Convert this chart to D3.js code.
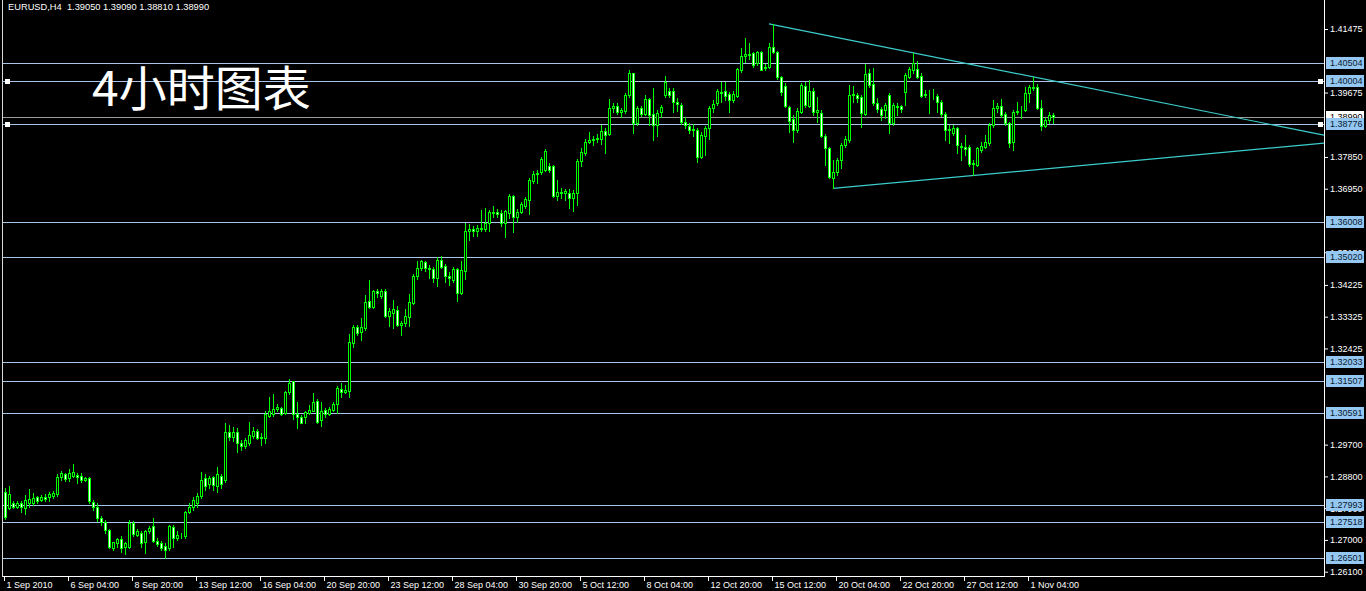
<!DOCTYPE html>
<html><head><meta charset="utf-8">
<script src="https://cdn.jsdelivr.net/npm/d3@7"></script>
<style>html,body{margin:0;padding:0;background:#000;overflow:hidden}</style>
</head><body>
<script>
const openP = [
1.2837,1.2790,1.2806,1.2794,1.2804,1.2790,1.2804,1.2806,1.2821,1.2813,
1.2823,1.2821,1.2825,1.2830,1.2878,1.2887,1.2875,1.2881,1.2883,1.2881,
1.2870,1.2875,1.2808,1.2794,1.2761,1.2752,1.2727,1.2677,1.2691,1.2702,
1.2681,1.2681,1.2747,1.2714,1.2721,1.2693,1.2724,1.2740,1.2698,1.2691,
1.2683,1.2677,1.2738,1.2705,1.2712,1.2710,1.2778,1.2793,1.2806,1.2825,
1.2875,1.2858,1.2878,1.2853,1.2881,1.2870,1.3007,1.2993,1.3007,1.2974,
1.2966,1.2976,1.2995,1.3010,1.2988,1.2988,1.3051,1.3057,1.3070,1.3073,
1.3059,1.3120,1.3149,1.3056,1.3048,1.3049,1.3059,1.3066,1.3094,1.3040,
1.3068,1.3057,1.3068,1.3085,1.3129,1.3120,1.3123,1.3259,1.3302,1.3290,
1.3300,1.3377,1.3361,1.3404,1.3391,1.3404,1.3333,1.3344,1.3352,1.3309,
1.3314,1.3331,1.3371,1.3448,1.3470,1.3486,1.3470,1.3467,1.3441,1.3493,
1.3476,1.3448,1.3437,1.3467,1.3399,1.3463,1.3575,1.3580,1.3574,1.3583,
1.3580,1.3597,1.3625,1.3630,1.3627,1.3597,1.3627,1.3673,1.3616,1.3630,
1.3646,1.3663,1.3718,1.3736,1.3742,1.3748,1.3760,1.3760,1.3675,1.3687,
1.3684,1.3684,1.3670,1.3684,1.3774,1.3797,1.3828,1.3833,1.3836,1.3835,
1.3859,1.3850,1.3923,1.3928,1.3913,1.3916,1.3961,1.4022,1.3882,1.3923,
1.3907,1.3948,1.3907,1.3876,1.3911,1.3961,1.3973,1.3973,1.3942,1.3932,
1.3885,1.3873,1.3860,1.3862,1.3786,1.3845,1.3866,1.3923,1.3937,1.3970,
1.3973,1.3962,1.3946,1.3958,1.4031,1.4071,1.4076,1.4079,1.4050,1.4081,
1.4036,1.4041,1.4096,1.4081,1.4011,1.3986,1.3926,1.3892,1.3862,1.3913,
1.3987,1.3929,1.3973,1.3913,1.3909,1.3843,1.3810,1.3725,1.3741,1.3777,
1.3819,1.3833,1.3961,1.3961,1.3954,1.3907,1.4022,1.3992,1.3937,1.3920,
1.3918,1.3961,1.3880,1.3926,1.3928,1.3970,1.4012,1.4031,1.4033,1.4014,
1.3961,1.3963,1.3962,1.3958,1.3942,1.3907,1.3861,1.3852,1.3866,1.3816,
1.3812,1.3812,1.3765,1.3762,1.3805,1.3814,1.3824,1.3876,1.3923,1.3928,
1.3907,1.3880,1.3828,1.3913,1.3915,1.3918,1.3965,1.3984,1.3984,1.3923,
1.3873,1.3890,1.3905];
const highP = [
1.2846,1.2853,1.2811,1.2809,1.2809,1.2828,1.2844,1.2832,1.2825,1.2828,
1.2830,1.2837,1.2840,1.2887,1.2894,1.2891,1.2900,1.2914,1.2891,1.2889,
1.2879,1.2878,1.2813,1.2804,1.2768,1.2757,1.2730,1.2695,1.2705,1.2710,
1.2695,1.2757,1.2755,1.2730,1.2724,1.2727,1.2740,1.2761,1.2705,1.2696,
1.2691,1.2743,1.2743,1.2724,1.2719,1.2783,1.2804,1.2821,1.2832,1.2892,
1.2887,1.2881,1.2881,1.2907,1.2887,1.3031,1.3026,1.3021,1.3016,1.2983,
1.2988,1.3033,1.3019,1.3014,1.3002,1.3064,1.3106,1.3114,1.3085,1.3078,
1.3123,1.3156,1.3151,1.3092,1.3054,1.3066,1.3083,1.3117,1.3099,1.3092,
1.3073,1.3078,1.3092,1.3137,1.3144,1.3139,1.3284,1.3309,1.3309,1.3328,
1.3394,1.3437,1.3408,1.3410,1.3410,1.3410,1.3356,1.3380,1.3363,1.3319,
1.3354,1.3397,1.3454,1.3489,1.3493,1.3491,1.3479,1.3473,1.3501,1.3505,
1.3482,1.3460,1.3473,1.3470,1.3491,1.3597,1.3594,1.3590,1.3592,1.3635,
1.3640,1.3635,1.3646,1.3637,1.3635,1.3635,1.3680,1.3677,1.3637,1.3656,
1.3671,1.3725,1.3744,1.3748,1.3784,1.3807,1.3767,1.3762,1.3720,1.3696,
1.3693,1.3693,1.3690,1.3778,1.3810,1.3835,1.3857,1.3845,1.3850,1.3876,
1.3866,1.3948,1.3937,1.3939,1.3923,1.3967,1.4030,1.4024,1.3928,1.3928,
1.3961,1.3951,1.3979,1.3918,1.3932,1.4013,1.3980,1.3980,1.3951,1.3937,
1.3899,1.3880,1.3879,1.3866,1.3857,1.3873,1.3928,1.3946,1.3977,1.3998,
1.3998,1.3970,1.3973,1.4036,1.4093,1.4121,1.4109,1.4083,1.4086,1.4086,
1.4048,1.4109,1.4161,1.4086,1.4014,1.3994,1.3929,1.3904,1.3923,1.3994,
1.3998,1.4003,1.3980,1.3954,1.3918,1.3850,1.3814,1.3777,1.3781,1.3824,
1.3843,1.3989,1.3986,1.3965,1.3961,1.4048,1.4033,1.4036,1.3951,1.3926,
1.3937,1.3965,1.3937,1.3937,1.3932,1.4024,1.4039,1.4079,1.4058,1.4022,
1.3975,1.3975,1.3977,1.3963,1.3946,1.3911,1.3876,1.3876,1.3871,1.3824,
1.3847,1.3819,1.3777,1.3814,1.3828,1.3847,1.3880,1.3945,1.3937,1.3948,
1.3911,1.3885,1.3918,1.3942,1.3928,1.3984,1.3989,1.4011,1.3992,1.3945,
1.3895,1.3913,1.3909];
const lowP = [
1.2759,1.2787,1.2790,1.2790,1.2780,1.2774,1.2794,1.2799,1.2804,1.2811,
1.2809,1.2811,1.2818,1.2825,1.2870,1.2868,1.2867,1.2878,1.2862,1.2865,
1.2867,1.2806,1.2785,1.2755,1.2743,1.2721,1.2676,1.2672,1.2681,1.2667,
1.2660,1.2677,1.2710,1.2710,1.2681,1.2662,1.2719,1.2693,1.2683,1.2672,
1.2648,1.2672,1.2681,1.2700,1.2705,1.2705,1.2776,1.2785,1.2794,1.2819,
1.2842,1.2847,1.2842,1.2836,1.2847,1.2865,1.2983,1.2979,1.2950,1.2955,
1.2960,1.2969,1.2988,1.2985,1.2969,1.2974,1.3049,1.3051,1.3066,1.3054,
1.3057,1.3114,1.3042,1.3016,1.3031,1.3031,1.3057,1.3064,1.3031,1.3024,
1.3049,1.3054,1.3064,1.3059,1.3104,1.3116,1.3104,1.3248,1.3281,1.3267,
1.3295,1.3358,1.3356,1.3389,1.3385,1.3331,1.3305,1.3300,1.3305,1.3281,
1.3306,1.3305,1.3369,1.3439,1.3465,1.3463,1.3441,1.3432,1.3420,1.3470,
1.3432,1.3421,1.3432,1.3377,1.3397,1.3439,1.3550,1.3561,1.3561,1.3574,
1.3574,1.3576,1.3616,1.3616,1.3590,1.3557,1.3611,1.3571,1.3602,1.3626,
1.3640,1.3624,1.3712,1.3712,1.3737,1.3744,1.3741,1.3671,1.3663,1.3668,
1.3663,1.3640,1.3633,1.3649,1.3758,1.3791,1.3824,1.3819,1.3826,1.3822,
1.3795,1.3847,1.3913,1.3907,1.3897,1.3910,1.3954,1.3854,1.3876,1.3901,
1.3904,1.3876,1.3833,1.3845,1.3899,1.3954,1.3956,1.3913,1.3916,1.3879,
1.3866,1.3852,1.3843,1.3772,1.3781,1.3791,1.3835,1.3913,1.3932,1.3942,
1.3946,1.3911,1.3942,1.3954,1.4027,1.4055,1.4062,1.4039,1.4046,1.4030,
1.4030,1.4036,1.4079,1.4005,1.3961,1.3926,1.3857,1.3828,1.3857,1.3909,
1.3926,1.3926,1.3904,1.3885,1.3841,1.3762,1.3725,1.3698,1.3734,1.3753,
1.3814,1.3828,1.3942,1.3942,1.3869,1.3904,1.3984,1.3932,1.3911,1.3890,
1.3895,1.3852,1.3876,1.3904,1.3913,1.3932,1.4008,1.4022,1.4008,1.3954,
1.3954,1.3909,1.3948,1.3911,1.3901,1.3833,1.3824,1.3847,1.3795,1.3775,
1.3791,1.3758,1.3734,1.3760,1.3800,1.3810,1.3819,1.3869,1.3913,1.3897,
1.3876,1.3814,1.3805,1.3907,1.3895,1.3916,1.3942,1.3975,1.3920,1.3861,
1.3869,1.3880,1.3881];
const closeP = [
1.2766,1.2830,1.2794,1.2804,1.2792,1.2813,1.2815,1.2820,1.2809,1.2823,
1.2815,1.2830,1.2834,1.2879,1.2891,1.2872,1.2889,1.2893,1.2878,1.2870,
1.2875,1.2809,1.2793,1.2761,1.2752,1.2727,1.2681,1.2693,1.2702,1.2677,
1.2691,1.2747,1.2717,1.2724,1.2691,1.2724,1.2733,1.2698,1.2689,1.2677,
1.2672,1.2740,1.2705,1.2714,1.2710,1.2778,1.2793,1.2813,1.2825,1.2870,
1.2853,1.2875,1.2856,1.2887,1.2858,1.3007,1.2993,1.3007,1.2974,1.2965,
1.2983,1.2998,1.3009,1.2988,1.2991,1.3057,1.3064,1.3070,1.3078,1.3057,
1.3118,1.3146,1.3057,1.3048,1.3032,1.3063,1.3068,1.3092,1.3035,1.3066,
1.3057,1.3071,1.3085,1.3130,1.3120,1.3125,1.3262,1.3304,1.3287,1.3303,
1.3373,1.3361,1.3404,1.3399,1.3406,1.3333,1.3349,1.3354,1.3309,1.3314,
1.3333,1.3373,1.3448,1.3470,1.3490,1.3470,1.3467,1.3441,1.3493,1.3474,
1.3448,1.3443,1.3468,1.3399,1.3465,1.3575,1.3580,1.3576,1.3585,1.3580,
1.3599,1.3630,1.3630,1.3624,1.3597,1.3633,1.3675,1.3616,1.3630,1.3651,
1.3665,1.3720,1.3736,1.3739,1.3778,1.3803,1.3748,1.3675,1.3687,1.3684,
1.3688,1.3670,1.3682,1.3774,1.3800,1.3828,1.3833,1.3836,1.3838,1.3859,
1.3847,1.3923,1.3928,1.3913,1.3918,1.3961,1.4024,1.3882,1.3923,1.3907,
1.3948,1.3904,1.3876,1.3910,1.3926,1.3998,1.3961,1.3942,1.3935,1.3885,
1.3876,1.3862,1.3865,1.3786,1.3847,1.3866,1.3923,1.3935,1.3973,1.3965,
1.3958,1.3946,1.3963,1.4033,1.4071,1.4076,1.4073,1.4046,1.4081,1.4031,
1.4041,1.4096,1.4081,1.4011,1.3970,1.3928,1.3888,1.3860,1.3916,1.3989,
1.3932,1.3973,1.3913,1.3918,1.3843,1.3810,1.3729,1.3741,1.3777,1.3819,
1.3835,1.3961,1.3962,1.3951,1.3909,1.4020,1.3989,1.3937,1.3920,1.3904,
1.3932,1.3880,1.3932,1.3928,1.3920,1.4017,1.4033,1.4052,1.4012,1.3958,
1.3963,1.3962,1.3963,1.3942,1.3907,1.3861,1.3863,1.3866,1.3819,1.3812,
1.3807,1.3765,1.3769,1.3810,1.3816,1.3826,1.3876,1.3923,1.3928,1.3904,
1.3880,1.3824,1.3913,1.3915,1.3914,1.3965,1.3984,1.3979,1.3923,1.3873,
1.3890,1.3904,1.3899];

const timeLabels = ["1 Sep 2010","6 Sep 04:00","8 Sep 20:00","13 Sep 12:00","16 Sep 04:00","20 Sep 20:00",
  "23 Sep 12:00","28 Sep 04:00","30 Sep 20:00","5 Oct 12:00","8 Oct 04:00","12 Oct 20:00",
  "15 Oct 12:00","20 Oct 04:00","22 Oct 20:00","27 Oct 12:00","1 Nov 04:00"];
const timeLabelBars = [0,16,32,48,64,80,96,112,128,144,160,176,192,208,224,240,256];
const priceTicks = [1.41475,1.39675,1.37850,1.36950,1.35150,1.34225,
  1.33325,1.32425,1.29700,1.28800,1.27900,1.27000,1.26100];
const levels = [1.40504,1.40004,1.38776,1.36008,1.35020,1.32033,1.31507,1.30591,1.27993,1.27518,1.26501];
const selectedLevels = [1.40004,1.38776];
const bidPrice = 1.38990;
const trendUpper = [[191,1.4162],[257,1.4012]];
const trendLower = [[207,1.3696],[242,1.37325]];
const headerText = "EURUSD,H4  1.39050 1.39090 1.38810 1.38990";
const titleText = "4小时图表";

const W = 1366, H = 591, plotL = 3, plotR = 1324, plotB = 576;
const FONT = "'Liberation Sans', Arial, sans-serif";
const LIME = "#00ff00";

const svg = d3.select("body").append("svg").attr("width", W).attr("height", H).style("display","block");
svg.append("rect").attr("width", W).attr("height", H).attr("fill", "#000");

const n = closeP.length;
const x = d3.scaleLinear().domain([0, n - 1]).range([5, 5 + 4 * (n - 1)]);
const y = d3.scaleLinear().domain([d3.min(priceTicks), d3.max(priceTicks)]).range([571.7, 29]);
const ry = v => Math.round(y(v));

const plot = svg.append("g");

// level lines
plot.selectAll("line.lvl").data(levels).join("line")
  .attr("x1", plotL).attr("x2", plotR)
  .attr("y1", d => ry(d) + 0.5).attr("y2", d => ry(d) + 0.5)
  .attr("stroke", "#a9c5ea").attr("stroke-width", 1);
// bid line
plot.append("line").attr("x1", plotL).attr("x2", plotR)
  .attr("y1", ry(bidPrice) + 0.5).attr("y2", ry(bidPrice) + 0.5)
  .attr("stroke", "#9a9a9a").attr("stroke-width", 1);

// trend rays
function ray(a) {
  const x1 = x(a[0][0]), y1 = y(a[0][1]), x2 = x(a[1][0]), y2 = y(a[1][1]);
  const k = (y2 - y1) / (x2 - x1);
  return [x1, y1, plotR, y1 + k * (plotR - x1)];
}
[trendUpper, trendLower].forEach(t => {
  const r = ray(t);
  plot.append("line").attr("x1", r[0]).attr("y1", r[1]).attr("x2", r[2]).attr("y2", r[3])
    .attr("stroke", "#3ccccc").attr("stroke-width", 1.2);
});

// candles
const idx = d3.range(n);
const cg = plot.append("g").attr("shape-rendering", "crispEdges");
cg.selectAll("line.wick").data(idx).join("line")
  .attr("x1", i => x(i) + 0.5).attr("x2", i => x(i) + 0.5)
  .attr("y1", i => ry(highP[i])).attr("y2", i => ry(lowP[i]) + 1)
  .attr("stroke", LIME).attr("stroke-width", 1);
cg.selectAll("rect.body").data(idx).join("rect")
  .attr("x", i => x(i) - 0.5)
  .attr("y", i => ry(Math.max(openP[i], closeP[i])) + 0.5)
  .attr("width", 2)
  .attr("height", i => Math.max(0, ry(Math.min(openP[i], closeP[i])) - ry(Math.max(openP[i], closeP[i]))))
  .attr("fill", i => closeP[i] >= openP[i] ? "#000" : "#ffffff")
  .attr("stroke", LIME).attr("stroke-width", 1);

// handles on selected levels
selectedLevels.forEach(v => {
  [5, 1318].forEach(hx => {
    svg.append("rect").attr("x", hx).attr("y", ry(v) - 2).attr("width", 5).attr("height", 5).attr("fill", "#fff");
  });
});

// axes frame
svg.append("line").attr("x1", 2.5).attr("x2", 2.5).attr("y1", 0).attr("y2", plotB + 1).attr("stroke", "#d8d8d8");
svg.append("line").attr("x1", plotR + 0.5).attr("x2", plotR + 0.5).attr("y1", 0).attr("y2", plotB + 1).attr("stroke", "#fff");
svg.append("line").attr("x1", plotL).attr("x2", plotR + 1).attr("y1", plotB + 0.5).attr("y2", plotB + 0.5).attr("stroke", "#fff");

// right price axis
const ay = svg.append("g").attr("transform", `translate(${plotR},0)`)
  .call(d3.axisRight(y).tickValues(priceTicks).tickFormat(d3.format(".5f")).tickSize(4).tickPadding(2));
ay.select(".domain").remove();
ay.selectAll("line").attr("stroke", "#fff");
ay.selectAll("text").attr("fill", "#fff").style("font-family", FONT).style("font-size", "9px");

// bottom time axis
const ax = svg.append("g").attr("transform", `translate(-1,${plotB})`)
  .call(d3.axisBottom(x).tickValues(timeLabelBars).tickFormat((d, i) => timeLabels[i]).tickSize(5).tickPadding(1));
ax.select(".domain").remove();
ax.selectAll("line").attr("stroke", "#fff");
ax.selectAll("text").attr("fill", "#fff").attr("text-anchor", "start").attr("x", 2)
  .style("font-family", FONT).style("font-size", "9px");

// bid label
const bl = svg.append("g");
bl.append("rect").attr("x", 1326).attr("y", ry(bidPrice) - 6).attr("width", 38).attr("height", 12).attr("fill", "#fff");
bl.append("text").attr("x", 1330).attr("y", ry(bidPrice)).attr("dy", "0.35em").text(d3.format(".5f")(bidPrice))
  .attr("fill", "#000").style("font-family", FONT).style("font-size", "9px");

// level labels
const lg = svg.append("g");
levels.forEach(v => {
  lg.append("rect").attr("x", 1326).attr("y", ry(v) - 6).attr("width", 38).attr("height", 12).attr("fill", "#94c8f2");
  lg.append("text").attr("x", 1330).attr("y", ry(v)).attr("dy", "0.35em").text(d3.format(".5f")(v))
    .attr("fill", "#0a1830").style("font-family", FONT).style("font-size", "9px");
});

// header and title
svg.append("text").attr("x", 8).attr("y", 10).text(headerText).attr("fill", "#fff")
  .style("font-family", FONT).style("font-size", "9.3px").style("white-space", "pre").attr("xml:space", "preserve");
svg.append("text").attr("x", 92).attr("y", 106).text(titleText).attr("fill", "#fff")
  .style("font-family", "'Noto Sans CJK SC', sans-serif").style("font-size", "48px");
</script>
</body></html>
